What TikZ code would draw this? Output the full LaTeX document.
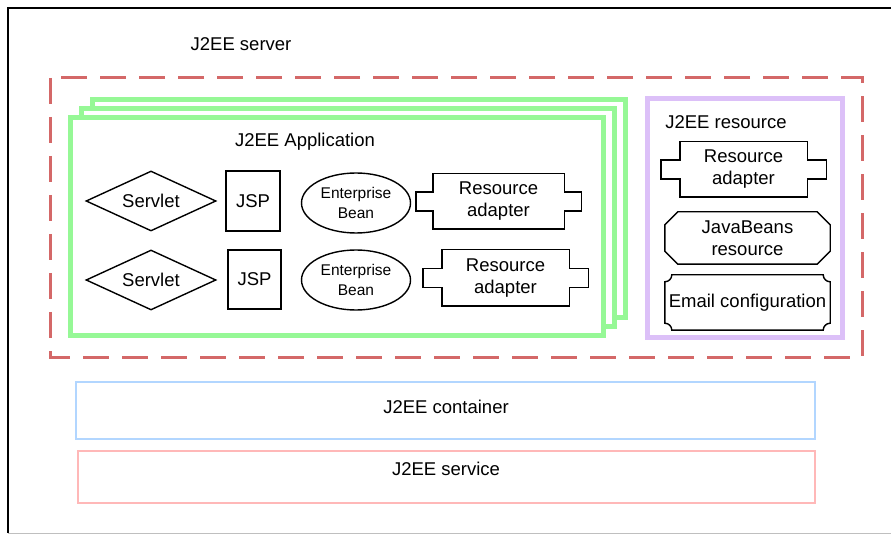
\documentclass[tikz,border=0pt]{standalone}
\usepackage{fontspec}
\setmainfont{Liberation Sans}
\usepackage{tikz}
\usetikzlibrary{calc}
\usetikzlibrary{shapes.geometric}

\definecolor{serverred}{RGB}{212,104,104}
\definecolor{appgreen}{RGB}{150,248,150}
\definecolor{resviolet}{RGB}{220,192,248}
\definecolor{containerblue}{RGB}{178,214,255}
\definecolor{servicepink}{RGB}{255,184,184}

% outline of a resource adapter: body with a tab on each side
\newcommand{\adapteroutline}[2]{%
  \draw[line width=1.4pt] (#1.north west) -- (#1.north east)
    -- ([yshift=9.5pt]#1.east) -- ++(#2,0pt) -- ++(0pt,-19pt)
    -- ([yshift=-9.5pt]#1.east) -- (#1.south east) -- (#1.south west)
    -- ([yshift=-9.5pt]#1.west) -- ++(-#2,0pt) -- ++(0pt,19pt)
    -- ([yshift=9.5pt]#1.west) -- cycle;}
% box with cut corners
\newcommand{\chamferoutline}[2]{%
  \draw[line width=1.4pt] ([xshift=#2]#1.north west) -- ([xshift=-#2]#1.north east)
    -- ([yshift=-#2]#1.north east) -- ([yshift=#2]#1.south east)
    -- ([xshift=-#2]#1.south east) -- ([xshift=#2]#1.south west)
    -- ([yshift=#2]#1.south west) -- ([yshift=-#2]#1.north west) -- cycle;}
% box with hollow round corners
\newcommand{\scrolloutline}[2]{%
  \draw[line width=1.4pt] ([xshift=#2]#1.north west) -- ([xshift=-#2]#1.north east)
    arc[start angle=180, end angle=270, radius=#2]
    -- ([yshift=#2]#1.south east)
    arc[start angle=90, end angle=180, radius=#2]
    -- ([xshift=#2]#1.south west)
    arc[start angle=0, end angle=90, radius=#2]
    -- ([yshift=-#2]#1.north west)
    arc[start angle=270, end angle=360, radius=#2] -- cycle;}

\begin{document}
\begin{tikzpicture}[x=1pt,y=-1pt]
\tikzstyle{every node}=[font=\fontsize{18.5}{22}\selectfont]
\tikzstyle{heading}=[anchor=base,inner sep=0pt]
\tikzstyle{servlet}=[diamond,draw,line width=1.4pt,aspect=2.2,inner sep=0pt,minimum width=130pt,minimum height=60pt]
\tikzstyle{jsp}=[rectangle,draw,line width=1.4pt,inner sep=0pt,minimum width=54pt,minimum height=60pt]
\tikzstyle{bean}=[ellipse,draw,line width=1.4pt,inner sep=0pt,minimum width=109pt,minimum height=60pt,align=center,font=\fontsize{15.5}{19.5}\selectfont]
\tikzstyle{hull}=[rectangle,inner sep=0pt,align=center]
\useasboundingbox (0,0) rectangle (891,534);

% server frame
\draw[line width=2pt] (891,8) -- (8,8) -- (8,533);
\draw[line width=1pt,black!25] (8,533) -- (891,533);
\node[heading] at (241,51) (server) {J2EE server};
\draw[serverred,line width=3pt,dash pattern=on 26pt off 13pt] (50,78) rectangle (862,357);

% application stack
\foreach \d in {2,1,0}
  \draw[appgreen,line width=5pt,fill=white] (70+11*\d,118-9*\d) rectangle (603+11*\d,336-9*\d);
\node[heading] at (305,147) (app) {J2EE Application};

\node[servlet] at (151,201) (servletA) {Servlet};
\node[jsp] at (253,201) (jspA) {JSP};
\node[bean] at (356,203) (beanA) {Enterprise\\Bean};
\node[hull,minimum width=131pt,minimum height=55pt] at (498.5,201.5) (adapterA) {Resource\\adapter};
\adapteroutline{adapterA}{17pt}

\node[servlet] at (151,280) (servletB) {Servlet};
\node[jsp,minimum width=53pt,minimum height=59pt] at (254.5,279.5) (jspB) {JSP};
\node[bean] at (356,280) (beanB) {Enterprise\\Bean};
\node[hull,minimum width=127pt,minimum height=56pt] at (505.5,278) (adapterB) {Resource\\adapter};
\adapteroutline{adapterB}{19pt}

% resources
\draw[resviolet,line width=5pt] (647,99) rectangle (842,338);
\node[heading] at (726,129) (res) {J2EE resource};
\node[hull,minimum width=127pt,minimum height=55pt] at (743.5,169.5) (adapterC) {Resource\\adapter};
\adapteroutline{adapterC}{19pt}
\node[hull,minimum width=165pt,minimum height=52pt] at (747.5,238) (javabeans) {JavaBeans\\resource};
\chamferoutline{javabeans}{13pt}
\node[hull,minimum width=165pt,minimum height=55pt] at (747.5,302.5) (email) {Email configuration};
\scrolloutline{email}{7pt}

% container and service
\draw[containerblue,line width=2pt] (76,382) rectangle (815,439);
\node[heading] at (446,413) (container) {J2EE container};
\draw[servicepink,line width=2pt] (78,451) rectangle (815,503);
\node[heading] at (446,475) (service) {J2EE service};
\end{tikzpicture}
\end{document}
